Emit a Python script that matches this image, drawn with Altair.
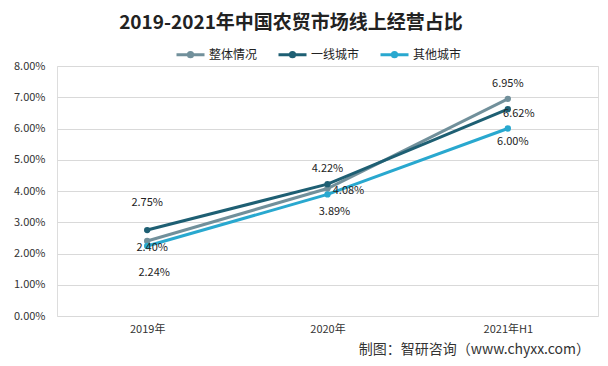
import altair as alt
import pandas as pd

years = ["2019年", "2020年", "2021年H1"]
series_names = ["整体情况", "一线城市", "其他城市"]
overall = [2.40, 4.08, 6.95]
tier1 = [2.75, 4.22, 6.62]
others = [2.24, 3.89, 6.00]
y_ticks = [0, 1, 2, 3, 4, 5, 6, 7, 8]

colors = ["#71909b", "#1e5f73", "#29a8cf"]
# label offsets in px per series (dx, dy) for each year
label_dx = [[5, 21, 0], [0, 0, 11], [7, 7, 5]]
label_dy = [[7, 2, -15], [-27, -15, 5], [27, 18, 13]]

rows = []
for name, vals in zip(series_names, [overall, tier1, others]):
    for yr, v in zip(years, vals):
        rows.append({"year": yr, "series": name, "value": v})
df = pd.DataFrame(rows)

FONT = "Noto Sans CJK SC"

x_enc = alt.X("year:N", sort=years, title=None,
              scale=alt.Scale(paddingInner=0, paddingOuter=0),
              axis=alt.Axis(labelAngle=0, ticks=False, domain=False, grid=False,
                            labelFontSize=11, labelColor="#333333", labelPadding=7,
                            labelFont=FONT))
y_enc = alt.Y("value:Q", title=None,
              scale=alt.Scale(domain=[0, 8], nice=False),
              axis=alt.Axis(values=y_ticks, labelExpr="format(datum.value, '.2f') + '%'",
                            ticks=False, domain=False, gridColor="#d9d9d9",
                            labelFontSize=11, labelColor="#333333", labelPadding=12,
                            labelOverlap=False, labelFont=FONT))
color_scale = alt.Scale(domain=series_names, range=colors)
color_enc = alt.Color("series:N", sort=series_names, scale=color_scale,
                      legend=alt.Legend(orient="none", legendX=118, legendY=-27,
                                        direction="horizontal", title=None,
                                        symbolType="M-1,0L1,0M-0.15,0A0.15,0.15,0,1,0,0.15,0A0.15,0.15,0,1,0,-0.15,0Z",
                                        symbolSize=784, symbolStrokeWidth=3,
                                        labelFontSize=12, labelFont=FONT, labelColor="#222222",
                                        labelOffset=3, columnPadding=14))

base = alt.Chart(df)
lines = base.mark_line(strokeWidth=3).encode(x=x_enc, y=y_enc, color=color_enc)
points = base.mark_circle(size=40, opacity=1).encode(
    x=x_enc, y=y_enc,
    color=alt.Color("series:N", sort=series_names, legend=None, scale=color_scale))

label_layers = []
for si, name in enumerate(series_names):
    for yi, yr in enumerate(years):
        label_layers.append(
            base.transform_filter(
                (alt.datum.series == name) & (alt.datum.year == yr)
            ).transform_calculate(
                label="format(datum.value, '.2f') + '%'"
            ).mark_text(fontSize=11, font=FONT, color="#222222",
                        dx=label_dx[si][yi], dy=label_dy[si][yi]).encode(
                x=x_enc, y=y_enc, text="label:N")
        )

title = alt.Chart(pd.DataFrame({"t": ["2019-2021年中国农贸市场线上经营占比"]})).mark_text(
    fontSize=19, fontWeight="bold", font=FONT, color="#222222"
).encode(x=alt.value(234), y=alt.value(-43), text="t:N")

source = alt.Chart(pd.DataFrame({"t": ["制图：智研咨询（www.chyxx.com）"]})).mark_text(
    fontSize=14, font=FONT, color="#333333", align="right"
).encode(x=alt.value(533), y=alt.value(284), text="t:N")

chart = alt.layer(lines, points, *label_layers, title, source).properties(
    width=541, height=250,
    padding={"left": 49, "top": 58, "right": 2, "bottom": 42},
    autosize=alt.AutoSizeParams(type="none"),
).configure_view(stroke=None).configure(background="white")

chart.save("out.html", embed_options={"renderer": "svg", "actions": False})
